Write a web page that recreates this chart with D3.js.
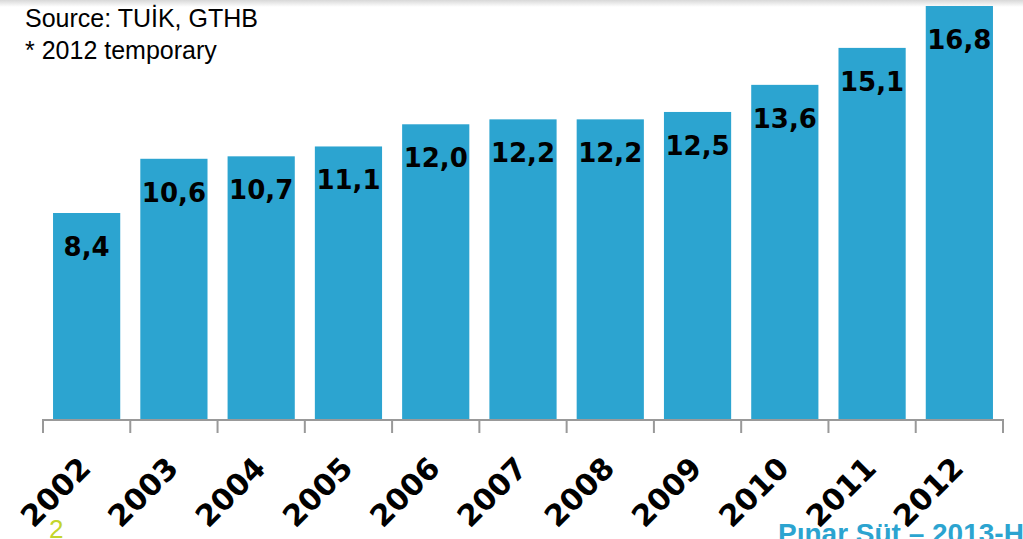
<!DOCTYPE html>
<html>
<head>
<meta charset="utf-8">
<script src="https://cdn.jsdelivr.net/npm/d3@7/dist/d3.min.js"></script>
<style>
  html, body { margin: 0; padding: 0; background: #fff; overflow: hidden; }
</style>
</head>
<body>
<svg id="chart"></svg>
<script>
// Chart data
const years = ["2002", "2003", "2004", "2005", "2006", "2007", "2008", "2009", "2010", "2011", "2012"];
const values = [8.4, 10.6, 10.7, 11.1, 12.0, 12.2, 12.2, 12.5, 13.6, 15.1, 16.8];
const noteLines = ["Source: TUİK, GTHB", "* 2012 temporary"];

const width = 1023, height = 539;
const baseY = 420;

const svg = d3.select("#chart")
    .attr("width", width)
    .attr("height", height);

// soft shadow along the top edge
const grad = svg.append("defs").append("linearGradient")
    .attr("id", "topShade")
    .attr("x1", 0).attr("y1", 0).attr("x2", 0).attr("y2", 1);
grad.append("stop").attr("offset", "0%").attr("stop-color", "#d8d8d8");
grad.append("stop").attr("offset", "100%").attr("stop-color", "#ffffff");
svg.append("rect")
    .attr("x", 0).attr("y", 0)
    .attr("width", width).attr("height", 7)
    .attr("fill", "url(#topShade)");

// scales
const x = d3.scaleBand()
    .domain(years)
    .range([43, 1003])
    .paddingInner(0.23)
    .paddingOuter(0.115);

const y = d3.scaleLinear()
    .domain([0, 16.8])
    .range([baseY, 6]);

// bars
svg.selectAll(".bar")
    .data(values)
    .enter().append("rect")
    .attr("class", "bar")
    .attr("x", (d, i) => x(years[i]))
    .attr("y", d => y(d))
    .attr("width", x.bandwidth())
    .attr("height", d => baseY - y(d))
    .attr("fill", "#2ca4d0");

// value labels inside the bars
svg.selectAll(".value-label")
    .data(values)
    .enter().append("text")
    .attr("class", "value-label")
    .attr("x", (d, i) => x(years[i]) + x.bandwidth() / 2)
    .attr("y", d => y(d) + 43)
    .attr("text-anchor", "middle")
    .attr("font-family", "'DejaVu Sans', Verdana, sans-serif")
    .attr("font-weight", "bold")
    .attr("font-size", "26px")
    .attr("fill", "#000")
    .text(d => d.toFixed(1).replace(".", ","));

// x axis with tick marks on category boundaries
const bounds = d3.range(years.length + 1).map(i => 43 + i * x.step());
const axis = svg.append("g").attr("class", "x-axis");
axis.append("line")
    .attr("x1", bounds[0]).attr("x2", bounds[bounds.length - 1])
    .attr("y1", baseY).attr("y2", baseY)
    .attr("stroke", "#999").attr("stroke-width", 2);
axis.selectAll(".tick")
    .data(bounds)
    .enter().append("line")
    .attr("class", "tick")
    .attr("x1", d => d).attr("x2", d => d)
    .attr("y1", baseY - 1).attr("y2", baseY + 13)
    .attr("stroke", "#999").attr("stroke-width", 2);

// rotated year labels
svg.selectAll(".year-label")
    .data(years)
    .enter().append("text")
    .attr("class", "year-label")
    .attr("transform", d => "translate(" + (x(d) + x.bandwidth() / 2 + 6) + "," + 470 + ") rotate(-45)")
    .attr("text-anchor", "end")
    .attr("font-family", "'DejaVu Sans', Verdana, sans-serif")
    .attr("font-weight", "bold")
    .attr("font-size", "30px")
    .attr("fill", "#000")
    .text(d => d);

// source note
svg.selectAll(".note")
    .data(noteLines)
    .enter().append("text")
    .attr("class", "note")
    .attr("x", 25)
    .attr("y", (d, i) => 27 + i * 32)
    .attr("font-family", "'Liberation Sans', Arial, sans-serif")
    .attr("font-size", "25px")
    .attr("fill", "#000")
    .text(d => d);

// slide footer
svg.append("text")
    .attr("x", 49).attr("y", 538)
    .attr("font-family", "'Liberation Sans', Arial, sans-serif")
    .attr("font-size", "26px")
    .attr("fill", "#c3d52c")
    .text("2");

svg.append("text")
    .attr("x", 778).attr("y", 543)
    .attr("font-family", "'Liberation Sans', Arial, sans-serif")
    .attr("font-weight", "bold")
    .attr("font-size", "28px")
    .attr("fill", "#2ca4d0")
    .text("Pınar Süt – 2013-H");
</script>
</body>
</html>
